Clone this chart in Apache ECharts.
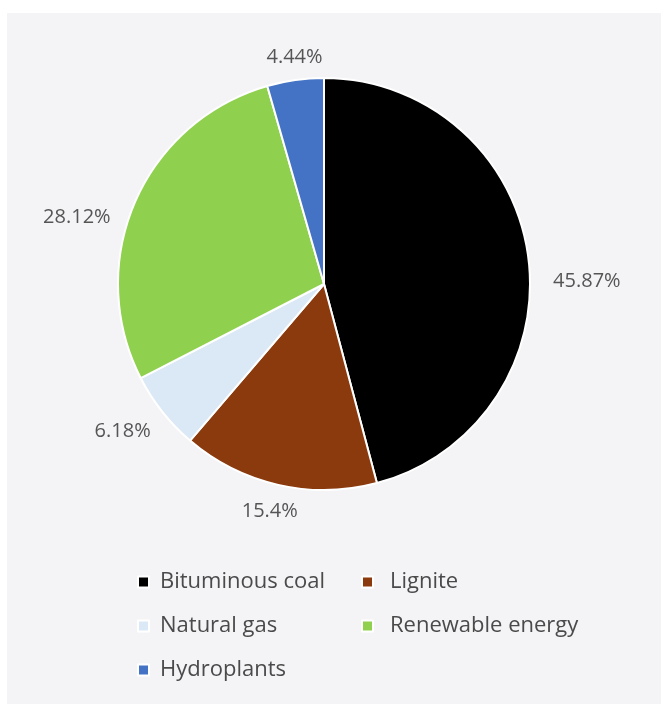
<!DOCTYPE html>
<html>
<head>
<meta charset="utf-8">
<script src="https://cdn.jsdelivr.net/npm/echarts@6/dist/echarts.min.js"></script>
<style>
html,body{margin:0;padding:0;background:#ffffff;}
#panel{position:absolute;left:7px;top:13px;width:654px;height:691px;background:#f4f4f7;}
#chart{position:absolute;left:0;top:0;width:661px;height:704px;}
</style>
</head>
<body>
<div id="panel"></div>
<div id="chart"></div>
<script>
const categories = ['Bituminous coal', 'Lignite', 'Natural gas', 'Renewable energy', 'Hydroplants'];
const values = [45.87, 15.4, 6.18, 28.12, 4.44];
const colors = ['#000000', '#8b3a0e', '#dbe8f5', '#8fd14f', '#4472c4'];
const legendCol1 = ['Bituminous coal', 'Natural gas', 'Hydroplants'];
const legendCol2 = ['Lignite', 'Renewable energy'];
// label nudges (layout only)
const labelNudge = [[0, 27], [29, 7], [9, 7], [-1, 23], [35, -3]];

const chart = echarts.init(document.getElementById('chart'), null, {renderer: 'canvas'});
const font = '"Open Sans", "Noto Sans", sans-serif';
const legendBase = {
  orient: 'vertical',
  icon: 'rect',
  itemWidth: 11,
  itemHeight: 11,
  itemGap: 22,
  textStyle: {fontFamily: font, fontSize: 22, color: '#4a4a4a', padding: [0, 0, 0, 6]},
  selectedMode: false
};
chart.setOption({
  backgroundColor: 'transparent',
  animation: false,
  color: colors,
  legend: [
    Object.assign({}, legendBase, {data: legendCol1, left: 132, top: 566}),
    Object.assign({}, legendBase, {data: legendCol2, left: 356, top: 566, textStyle: Object.assign({}, legendBase.textStyle, {padding: [0, 0, 0, 12]})})
  ],
  series: [{
    type: 'pie',
    center: [324, 284],
    radius: [0, 206],
    startAngle: 90,
    clockwise: true,
    data: categories.map((c, i) => ({name: c, value: values[i]})),
    itemStyle: {borderColor: '#ffffff', borderWidth: 2},
    label: {
      show: true,
      position: 'outside',
      formatter: p => p.value + '%',
      fontFamily: font,
      fontSize: 20,
      color: '#555555'
    },
    labelLine: {show: false, length: 20, length2: 0},
    labelLayout: p => ({dx: labelNudge[p.dataIndex][0], dy: labelNudge[p.dataIndex][1]}),
    emphasis: {disabled: true}
  }]
});
</script>
</body>
</html>
